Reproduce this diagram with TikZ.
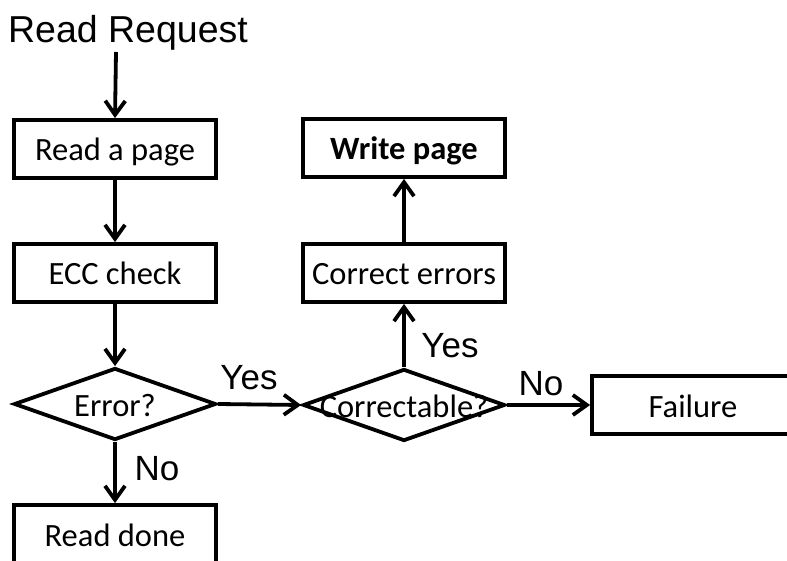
\documentclass[tikz,border=0pt]{standalone}
\usepackage{fontspec}
\setmainfont{Carlito}
\newfontfamily\arialfont{Liberation Sans}
\usetikzlibrary{shapes.geometric,arrows.meta}

\tikzset{
  box/.style={draw, line width=3.8pt, minimum width=202pt, minimum height=58pt, inner sep=0pt,
    text height=26pt, text depth=2pt, font=\fontsize{32.5}{38}\selectfont},
  dec/.style={draw, diamond, line width=3.8pt, minimum width=202pt, minimum height=72pt, inner sep=0pt},
  dectext/.style={inner sep=0pt, text height=26pt, text depth=2pt, font=\fontsize{32.5}{38}\selectfont},
  lbl/.style={inner sep=0pt, text depth=0pt, font=\arialfont\fontsize{35}{40}\selectfont},
  arr/.style={line width=3.8pt, -{Straight Barb[length=14pt,width=20pt]}}
}

\begin{document}
\begin{tikzpicture}[x=1pt,y=-1pt]
\useasboundingbox (0,0) rectangle (787,561);
\clip (0,0) rectangle (787,561);

% left column
\node[lbl, font=\arialfont\fontsize{37.5}{42}\selectfont] (req) at (128,29) {Read Request};
\coordinate (reqout) at (116,52);
\node[box] (rpage) at (115,149) {Read a page};
\node[box] (ecc) at (115,273) {ECC check};
\node[dec, label={[dectext]center:Error?}] (err) at (115,404) {};
\node[box] (rdone) at (115,534) {Read done};

% right part
\node[dec, label={[dectext]center:Correctable?}] (corr) at (404,405) {};
\node[box] (cerr) at (404,273) {Correct errors};
\node[box] (wpage) at (404,148) {\textbf{Write page}};
\node[box] (fail) at (693,405) {Failure};

\draw[arr] (reqout) -- (rpage.north);
\draw[arr] (rpage.south) -- (ecc.north);
\draw[arr] (ecc.south) -- (err.north);
\draw[arr] (err.south) -- (rdone.north);
\draw[arr] (err.east) -- (corr.west);
\draw[arr] (corr.north) -- (cerr.south);
\draw[arr] (cerr.north) -- (wpage.south);
\draw[arr] (corr.east) -- (fail.west);

% branch labels
\node[lbl] (yes1) at (249,377) {Yes};
\node[lbl] (no1) at (157,468) {No};
\node[lbl] (yes2) at (450,345) {Yes};
\node[lbl] (no2) at (541,383) {No};
\end{tikzpicture}
\end{document}
